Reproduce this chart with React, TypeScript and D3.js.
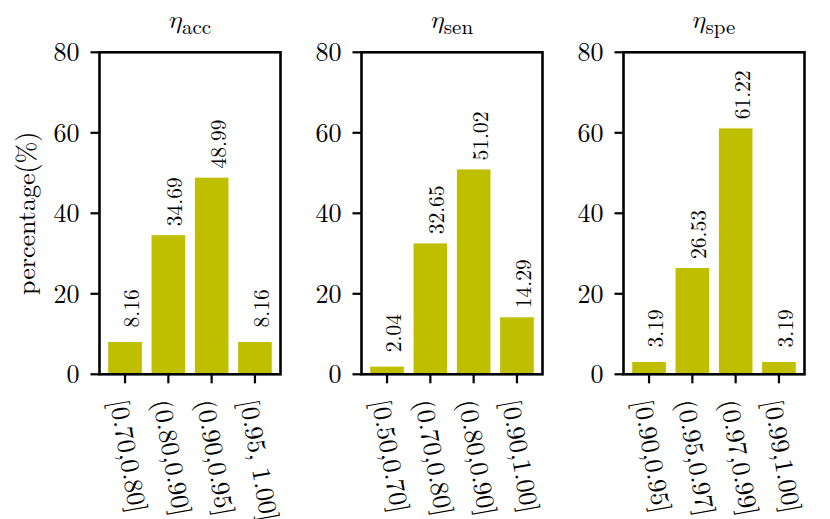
import { useEffect } from 'react';
import { scaleLinear } from 'd3';

// chart data
const accCategories = ['[0.70,0.80]', '(0.80,0.90]', '(0.90,0.95]', '[0.95, 1.00]'];
const accValues = [8.16, 34.69, 48.99, 8.16];
const senCategories = ['[0.50,0.70]', '(0.70,0.80]', '(0.80,0.90]', '[0.90,1.00]'];
const senValues = [2.04, 32.65, 51.02, 14.29];
const speCategories = ['[0.90,0.95]', '(0.95,0.97]', '(0.97,0.99]', '[0.99,1.00]'];
const speValues = [3.19, 26.53, 61.22, 3.19];
const subscripts = ['acc', 'sen', 'spe'];
const yTicks = [0, 20, 40, 60, 80];

const FONT = 'Latin Modern Roman, serif';
const MATH = 'Latin Modern Math, Latin Modern Roman, serif';
const BAR = '#bfbf00';
const width = 830;
const height = 519;
const top = 52.3;
const bottom = 374.3;
const panelW = 181;
const lefts = [99.5, 361.5, 623.5];

interface PanelProps {
  left: number;
  categories: string[];
  values: number[];
  sub: string;
  showYLabel: boolean;
}

function Panel({ left, categories, values, sub, showYLabel }: PanelProps) {
  const x = scaleLinear().domain([-0.59, categories.length - 1 + 0.59]).range([left, left + panelW]);
  const y = scaleLinear().domain([0, 80]).range([bottom, top]);
  const cx = (left + left + panelW) / 2;

  return (
    <g>
      {/* title */}
      <text x={cx} y={28} textAnchor="middle" fontFamily={FONT} fontSize={26}>
        <tspan fontFamily={MATH}>{'\u{1D702}'}</tspan>
        <tspan fontSize={21} dy={5.5}>{sub}</tspan>
      </text>

      {/* bars */}
      {values.map((v, i) => (
        <rect
          key={i}
          x={x(i - 0.4)}
          y={y(v)}
          width={x(i + 0.4) - x(i - 0.4)}
          height={y(0) - y(v)}
          fill={BAR}
          stroke="#ffffff"
          strokeWidth={1}
        />
      ))}

      {/* value labels */}
      {values.map((v, i) => (
        <text
          key={i}
          transform={`translate(${x(i) + 14},${y(v) - 33}) rotate(-90)`}
          textAnchor="middle"
          fontFamily={FONT}
          fontSize={21.5}
        >
          {v.toFixed(2)}
        </text>
      ))}

      {/* frame */}
      <rect x={left} y={top} width={panelW} height={bottom - top} fill="none" stroke="#000" strokeWidth={2.6} />

      {/* y axis */}
      {yTicks.map((t) => (
        <g key={t}>
          <line x1={left - 9} x2={left} y1={y(t)} y2={y(t)} stroke="#000" strokeWidth={2.2} />
          <text x={left - 20} y={y(t) + 9} textAnchor="end" fontFamily={FONT} fontSize={26}>
            {t}
          </text>
        </g>
      ))}

      {/* x axis */}
      {categories.map((c, i) => (
        <g key={c}>
          <line x1={x(i)} x2={x(i)} y1={bottom} y2={bottom + 9} stroke="#000" strokeWidth={2.2} />
          <text
            transform={`translate(${x(i) - 15},${bottom + 27}) rotate(80)`}
            fontFamily={FONT}
            fontSize={26}
          >
            {c}
          </text>
        </g>
      ))}

      {showYLabel && (
        <text
          transform={`translate(35,${(top + bottom) / 2}) rotate(-90)`}
          textAnchor="middle"
          fontFamily={FONT}
          fontSize={26}
        >
          percentage(%)
        </text>
      )}
    </g>
  );
}

export default function App() {
  useEffect(() => {
    document.body.style.margin = '0';
  }, []);

  const panels = [
    { categories: accCategories, values: accValues },
    { categories: senCategories, values: senValues },
    { categories: speCategories, values: speValues },
  ];

  return (
    <svg width={width} height={height} viewBox={`0 0 ${width} ${height}`} style={{ display: 'block', background: '#fff' }}>
      {panels.map((p, k) => (
        <Panel
          key={k}
          left={lefts[k]}
          categories={p.categories}
          values={p.values}
          sub={subscripts[k]}
          showYLabel={k === 0}
        />
      ))}
    </svg>
  );
}
